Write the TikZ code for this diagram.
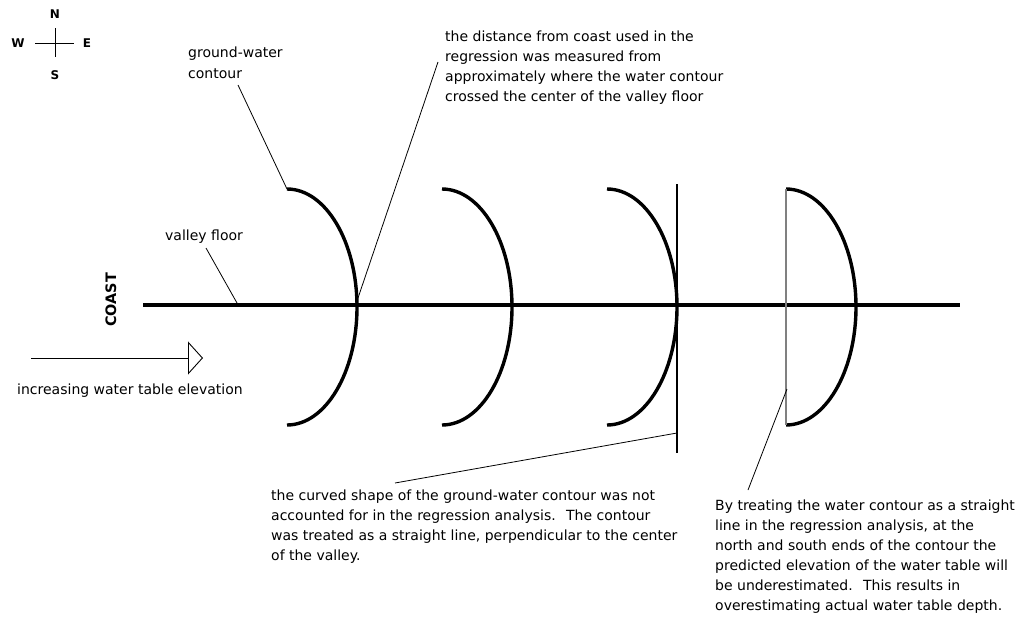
\documentclass[tikz,border=0pt]{standalone}
\usepackage{fontspec}
\setmainfont{DejaVu Sans}
\usetikzlibrary{arrows.meta}
\tikzset{
    contour/.style={line width=3.4pt},
    floor/.style={line width=4pt},
    leader/.style={line width=0.8pt},
    note/.style={align=left,inner sep=0pt,font=\fontsize{14}{20}\selectfont},
    compass/.style={inner sep=0pt,font=\fontsize{12}{12}\selectfont\bfseries},
    arrow/.style={-{Triangle[open,length=15pt,width=33pt]},line width=0.9pt}
}

\begin{document}
\begin{tikzpicture}[x=1pt,y=1pt]
    \useasboundingbox (0,0) rectangle (1021,-625);
    \node[compass] (n) at (55,-14) {N};
    \node[compass] (s) at (55,-75) {S};
    \node[compass] (w) at (18,-43) {W};
    \node[compass] (e) at (87,-43) {E};
    \coordinate (cw) at (35,-43);
    \coordinate (ce) at (74,-43);
    \coordinate (cn) at (55,-28);
    \coordinate (cs) at (55,-57);
    \draw[line width=0.9pt] (cw) -- (ce) (cn) -- (cs);
    \coordinate (coast) at (143,-305);
    \coordinate (inland) at (960,-305);
    \draw[floor] (coast) -- (inland);
    \foreach \cx [count=\i] in {287,442,607,786}{
        \coordinate (top\i) at (\cx,-189);
        \coordinate (bot\i) at (\cx,-425);
        \draw[contour] (top\i) arc[start angle=90,end angle=-90,x radius=70,y radius=118];
    }
    \coordinate (vtop) at (677,-184);
    \coordinate (vbot) at (677,-453);
    \draw[line width=2pt] (vtop) -- (vbot);
    \draw[black!50,line width=1.2pt] (top4) -- (bot4);
    \node[note,anchor=west] (gw) at (188,-54) {ground-water};
    \node[note,anchor=west] (gw2) at (188,-74) {contour};
    \node[note,anchor=north west] (dist) at (445,-31) {the distance from coast used in the\\regression was measured from\\approximately where the water contour\\crossed the center of the valley floor};
    \node[note,anchor=south west] (vf) at (165,-244) {valley floor};
    \node[font=\fontsize{14.4}{14.4}\selectfont\bfseries,rotate=90,inner sep=0pt] (coastlbl) at (111,-300) {COAST};
    \node[note,anchor=west] (incr) at (17,-391) {increasing water table elevation};
    \node[note,anchor=north west] (curved) at (271,-490) {the curved shape of the ground-water contour was not\\accounted for in the regression analysis.~ The contour\\was treated as a straight line, perpendicular to the center\\of the valley.};
    \node[note,anchor=north west] (treat) at (715,-500) {By treating the water contour as a straight\\line in the regression analysis, at the\\north and south ends of the contour the\\predicted elevation of the water table will\\be underestimated.~ This results in\\overestimating actual water table depth.};
    \coordinate (gwtip) at (238,-85);
    \coordinate (disttip) at (438,-62);
    \coordinate (cross1) at (358,-298);
    \coordinate (vftip) at (206,-248);
    \coordinate (vfend) at (237,-303);
    \coordinate (curvtip) at (395,-483);
    \coordinate (vmark) at (677,-433);
    \coordinate (treattip) at (748,-490);
    \coordinate (gmark) at (787,-389);
    \draw[leader] (gwtip) -- (top1);
    \draw[leader] (disttip) -- (cross1);
    \draw[leader] (vftip) -- (vfend);
    \draw[leader] (curvtip) -- (vmark);
    \draw[leader] (treattip) -- (gmark);
    \coordinate (arrtail) at (31,-358);
    \coordinate (arrhead) at (203,-358);
    \draw[arrow] (arrtail) -- (arrhead);
\end{tikzpicture}
\end{document}
